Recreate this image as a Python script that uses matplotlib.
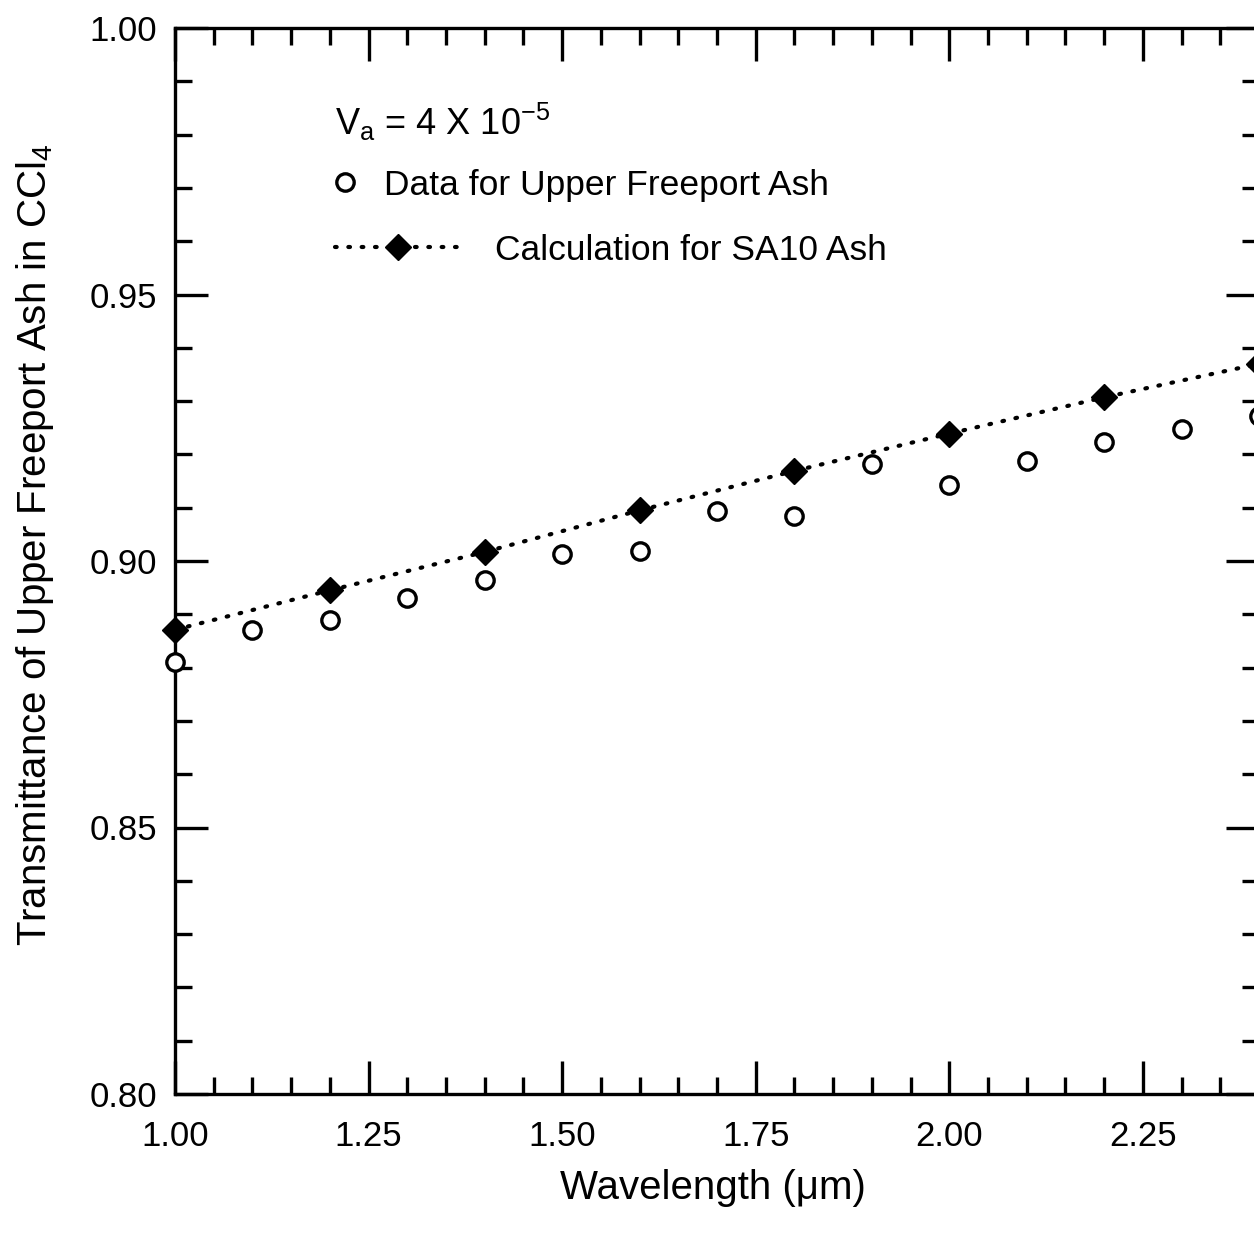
import matplotlib
matplotlib.use("Agg")
import matplotlib.pyplot as plt
from matplotlib.ticker import MultipleLocator, FormatStrFormatter
from matplotlib.lines import Line2D

plt.rcParams['font.family'] = ['Liberation Sans', 'DejaVu Sans']
plt.rcParams['mathtext.fontset'] = 'custom'
plt.rcParams['mathtext.rm'] = 'Liberation Sans'
plt.rcParams['mathtext.it'] = 'Liberation Sans'

# ---- data ----
wl_data = [1.0, 1.1, 1.2, 1.3, 1.4, 1.5, 1.6, 1.7, 1.8, 1.9, 2.0, 2.1, 2.2, 2.3, 2.4]
trans_data = [0.8811, 0.8871, 0.8890, 0.8930, 0.8964, 0.9014, 0.9018, 0.9093,
              0.9084, 0.9182, 0.9143, 0.9188, 0.9223, 0.9247, 0.9272]
wl_calc = [1.0, 1.2, 1.4, 1.6, 1.8, 2.0, 2.2, 2.4]
trans_calc = [0.8871, 0.8945, 0.9017, 0.9095, 0.9169, 0.9239, 0.9307, 0.9370]

label_data = "Data for Upper Freeport Ash"
label_calc = "Calculation for SA10 Ash"
annot = r"V$_\mathrm{a}$ = 4 X 10$^{\mathrm{-5}}$"
xlabel = "Wavelength (μm)"
ylabel = r"Transmittance of Upper Freeport Ash in CCl$_4$"

W, H = 1254, 1244
fig = plt.figure(figsize=(W / 100, H / 100), dpi=100)
L, R, T, B = 175, 1259, 28, 1094
ax = fig.add_axes([L / W, 1 - B / H, (R - L) / W, (B - T) / H])

dotted = (0, (0.4, 2.8))
LW = 3.0
calc_style = dict(color='black', linestyle=dotted, lw=LW, dash_capstyle='round',
                  marker='D', ms=13.5, mfc='black', mec='black', mew=1)
data_style = dict(linestyle='none', marker='o', ms=12.5, mfc='white', mec='black', mew=2.4)

ax.plot(wl_calc, trans_calc, clip_on=False, zorder=5, **calc_style)
ax.plot(wl_data, trans_data, clip_on=False, zorder=6, **data_style)

ax.set_xlim(1.0, 2.4)
ax.set_ylim(0.80, 1.00)
ax.xaxis.set_major_locator(MultipleLocator(0.25))
ax.xaxis.set_minor_locator(MultipleLocator(0.05))
ax.yaxis.set_major_locator(MultipleLocator(0.05))
ax.yaxis.set_minor_locator(MultipleLocator(0.01))
ax.xaxis.set_major_formatter(FormatStrFormatter('%.2f'))
ax.yaxis.set_major_formatter(FormatStrFormatter('%.2f'))

for s in ax.spines.values():
    s.set_linewidth(2.4)
ax.tick_params(which='both', direction='in', top=True, right=True, width=2.4)
ax.tick_params(which='major', length=24)
ax.tick_params(which='minor', length=12.5)
ax.tick_params(axis='x', which='major', labelsize=25, pad=19)
ax.tick_params(axis='y', which='major', labelsize=25, pad=13)

# labels
fig.text(713 / W, 1 - 1188 / H, xlabel, ha='center', va='center', fontsize=29)
fig.text(35 / W, 1 - 545 / H, ylabel, ha='center', va='center', rotation=90, fontsize=29)

# annotation + legends
ax.text((335 - L) / (R - L), (B - 135) / (B - T), annot, fontsize=26,
        ha='left', va='baseline', transform=ax.transAxes)

fs = 25.5
em = fs * 100 / 72.0
h1 = Line2D([], [], **data_style)
leg1 = ax.legend([h1], [label_data], loc='center left', frameon=False, fontsize=fs,
                 bbox_to_anchor=((334 - L) / (R - L), (B - 185) / (B - T)),
                 borderpad=0, borderaxespad=0, handlelength=0.6, handletextpad=0.8,
                 numpoints=1)
ax.add_artist(leg1)
h2 = Line2D([], [], **calc_style)
leg2 = ax.legend([h2], [label_calc], loc='center left', frameon=False, fontsize=fs,
                 bbox_to_anchor=((335 - L) / (R - L), (B - 250) / (B - T)),
                 borderpad=0, borderaxespad=0, handlelength=125 / em,
                 handletextpad=35 / em, numpoints=1)

fig.savefig("out.png", dpi=100)
